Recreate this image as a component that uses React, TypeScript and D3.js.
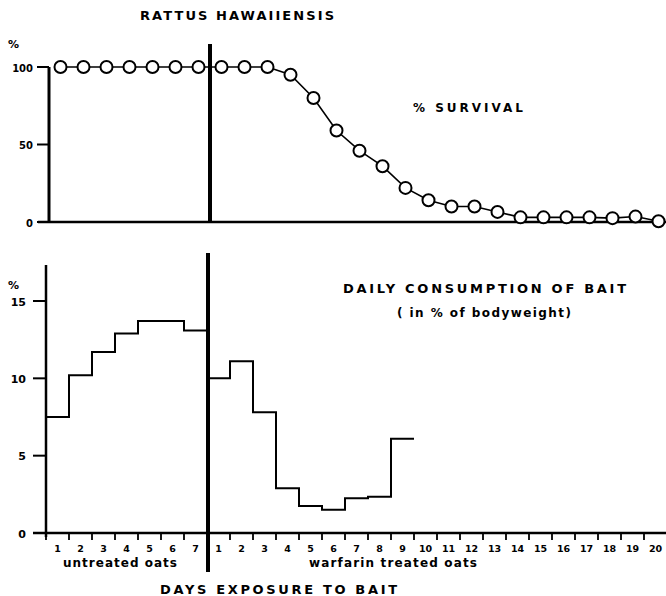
import React from "react";
import * as d3 from "d3";

// days of exposure
const untreatedDays = [1, 2, 3, 4, 5, 6, 7];
const treatedDays = [1, 2, 3, 4, 5, 6, 7, 8, 9, 10, 11, 12, 13, 14, 15, 16, 17, 18, 19, 20];

// % survival per day
const survivalUntreated = [100, 100, 100, 100, 100, 100, 100];
const survivalTreated = [100, 100, 100, 95, 80, 59, 46, 36, 22, 14, 10, 10, 6.5, 3, 3, 3, 3, 2.5, 3.5, 0.5];

// daily consumption of bait, % of bodyweight
const baitUntreated = [7.5, 10.2, 11.7, 12.9, 13.7, 13.7, 13.1];
const baitTreated = [10.0, 11.1, 7.8, 2.9, 1.75, 1.5, 2.25, 2.35, 6.1];

const survivalTicks = [0, 50, 100];
const baitTicks = [0, 5, 10, 15];

const W = 666;
const H = 596;
const FONT = "'DejaVu Sans', sans-serif";
const nDays = untreatedDays.length + treatedDays.length;

const xTop = d3.scaleLinear().domain([0, nDays]).range([49, 670]);
const xBot = d3.scaleLinear().domain([0, nDays]).range([46, 667]);
const yTop = d3.scaleLinear().domain([0, 100]).range([222, 67]);
const yBot = d3.scaleLinear().domain([0, 15]).range([533, 301]);

const split = untreatedDays.length;

const survivalPts: [number, number][] = [
  ...untreatedDays.map((d, i) => [xTop(d - 0.5), yTop(survivalUntreated[i])] as [number, number]),
  ...treatedDays.map((d, i) => [xTop(split + d - 0.5), yTop(survivalTreated[i])] as [number, number]),
];

const stepLine = d3
  .line<[number, number]>()
  .x((d) => xBot(d[0]))
  .y((d) => yBot(d[1]))
  .curve(d3.curveStepAfter);

const stepData = (days: number[], vals: number[], offset: number): [number, number][] => {
  const pts = days.map((d, i) => [offset + d - 1, vals[i]] as [number, number]);
  pts.push([offset + days[days.length - 1], vals[vals.length - 1]]);
  return pts;
};

const App = () => {
  const dayTicks = d3.range(0, nDays + 1);
  return (
    <svg
      width={W}
      height={H}
      style={{ position: "absolute", left: 0, top: 0, background: "#fff" }}
      fontFamily={FONT}
      fontWeight="bold"
      fill="#000"
    >
      {/* top panel: survival */}
      <text x={140} y={20} fontSize={13} textLength={194} lengthAdjust="spacing">RATTUS HAWAIIENSIS</text>
      <text x={8} y={48} fontSize={11}>%</text>
      <text x={413} y={112} fontSize={12} textLength={110} lengthAdjust="spacing">% SURVIVAL</text>

      <line x1={38} x2={W} y1={yTop(0)} y2={yTop(0)} stroke="#000" strokeWidth={2.5} />
      {survivalTicks.map((t) => (
        <g key={t}>
          <line x1={37} x2={49} y1={yTop(t)} y2={yTop(t)} stroke="#000" strokeWidth={2} />
          <text x={33} y={yTop(t) + 4.5} fontSize={10} textAnchor="end">{t}</text>
        </g>
      ))}
      <line x1={49} x2={49} y1={yTop(100)} y2={yTop(0)} stroke="#000" strokeWidth={3} />
      <line x1={xTop(split)} x2={xTop(split)} y1={44} y2={yTop(0)} stroke="#000" strokeWidth={4} />

      <path d={d3.line()(survivalPts) || ""} fill="none" stroke="#000" strokeWidth={1.6} />
      {survivalPts.map((p, i) => (
        <circle key={i} cx={p[0]} cy={p[1]} r={6} fill="#fff" stroke="#000" strokeWidth={2} />
      ))}

      {/* bottom panel: bait consumption */}
      <text x={8} y={289} fontSize={11}>%</text>
      <text x={343} y={293} fontSize={13} textLength={283} lengthAdjust="spacing">DAILY CONSUMPTION OF BAIT</text>
      <text x={397} y={317} fontSize={12} textLength={174} lengthAdjust="spacing">( in % of bodyweight)</text>

      {baitTicks.map((t) => (
        <g key={t}>
          <line x1={33} x2={46} y1={yBot(t)} y2={yBot(t)} stroke="#000" strokeWidth={2} />
          <text x={26} y={yBot(t) + 4.5} fontSize={11} textAnchor="end">{t}</text>
        </g>
      ))}
      <line x1={33} x2={W} y1={yBot(0)} y2={yBot(0)} stroke="#000" strokeWidth={2.5} />
      <line x1={46} x2={46} y1={265} y2={yBot(0) + 4} stroke="#000" strokeWidth={2.5} />
      {dayTicks.map((d) => (
        <line key={d} x1={xBot(d)} x2={xBot(d)} y1={yBot(0)} y2={yBot(0) + 7} stroke="#000" strokeWidth={1.8} />
      ))}
      <line x1={xBot(split) + 1} x2={xBot(split) + 1} y1={253} y2={572} stroke="#000" strokeWidth={4} />

      {untreatedDays.map((d) => (
        <text key={"u" + d} x={xBot(d - 0.5)} y={552} fontSize={9.5} textAnchor="middle">{d}</text>
      ))}
      {treatedDays.map((d) => (
        <text key={"t" + d} x={xBot(split + d - 0.5)} y={552} fontSize={9.5} textAnchor="middle">{d}</text>
      ))}

      <path d={stepLine(stepData(untreatedDays, baitUntreated, 0)) || ""} fill="none" stroke="#000" strokeWidth={2} />
      <path d={stepLine(stepData(treatedDays.slice(0, baitTreated.length), baitTreated, split)) || ""} fill="none" stroke="#000" strokeWidth={2} />

      <text x={63} y={567} fontSize={12} textLength={114} lengthAdjust="spacing">untreated oats</text>
      <text x={309} y={567} fontSize={12} textLength={168} lengthAdjust="spacing">warfarin treated oats</text>
      <text x={160} y={594} fontSize={13} textLength={237} lengthAdjust="spacing">DAYS EXPOSURE TO BAIT</text>
    </svg>
  );
};

export default App;
